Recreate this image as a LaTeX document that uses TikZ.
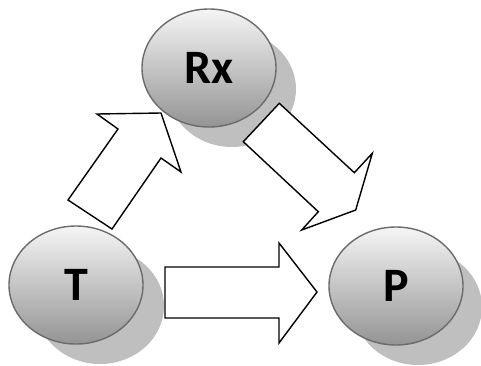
\documentclass[tikz,border=0pt]{standalone}
\usepackage{fontspec}
\setmainfont{Carlito}
\usetikzlibrary{shapes.geometric}
\begin{document}
\begin{tikzpicture}[x=1pt,y=-1pt,
  bubble/.style={ellipse, minimum width=134pt, minimum height=118pt, inner sep=0pt,
    draw=black!58, line width=1.4pt, top color=white!96!black, bottom color=black!42,
    font=\fontsize{48}{52}\selectfont\bfseries},
  shade/.style={ellipse, minimum width=128pt, minimum height=116pt, inner sep=0pt,
    fill=black!25},
  blockarrow/.style={draw=black, fill=white, line width=1.4pt, line join=miter}]
\useasboundingbox (0,0) rectangle (481,365);
% shadows
\node[shade] (Ts) at (100,306) {};
\node[shade] (Rxs) at (232,89) {};
\node[shade] (Ps) at (418,307) {};
% block arrows
\draw[blockarrow] (68,200) -- (112,229) -- (161,158) -- (181,172) -- (161,113)
  -- (97,114) -- (118,129) -- cycle;
\draw[blockarrow] (279.3,103.3) -- (354.3,172.7) -- (372.3,153.3) -- (355.7,210)
  -- (301.7,230) -- (318.3,211.7) -- (243.3,141.7) -- cycle;
\draw[blockarrow] (165,267) -- (279,267) -- (279,243) -- (317,292) -- (279,343)
  -- (279,318) -- (165,318) -- cycle;
% nodes
\node[bubble] (T) at (76,285) {\raisebox{-3pt}{T}};
\node[bubble] (Rx) at (209,68) {\raisebox{-3pt}{Rx}};
\node[bubble] (P) at (396,286) {\raisebox{-3pt}{P}};
\end{tikzpicture}
\end{document}
